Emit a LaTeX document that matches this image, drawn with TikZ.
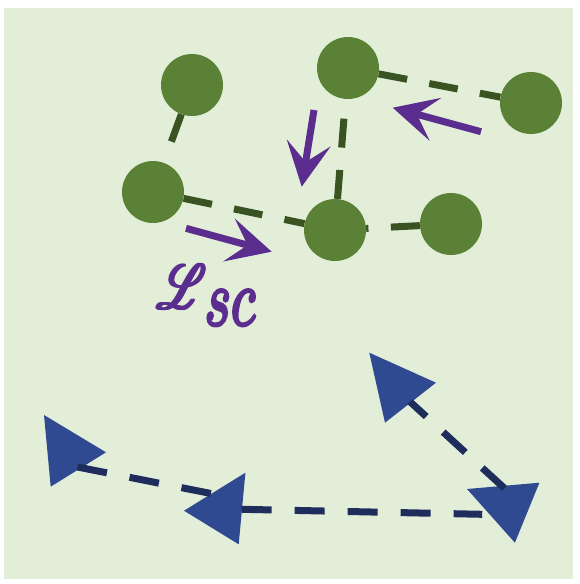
\documentclass[tikz,border=0pt]{standalone}
\usepackage{fontspec}
\usepackage{mathrsfs}
\usetikzlibrary{arrows.meta}
\newfontfamily\lblfont[FakeBold=4]{Latin Modern Math}
\newcommand\sL{\rlap{$\mathscr{L}$}}
\newcommand\fbL{\mbox{\sL\raisebox{0.15pt}{\sL}\kern0.25pt\sL\raisebox{0.15pt}{\sL}\kern0.25pt\sL\raisebox{0.15pt}{\sL}\kern0.25pt\sL\raisebox{0.15pt}{\sL}$\mathscr{L}$}}
\definecolor{bgc}{HTML}{E2EED8}
\definecolor{ballc}{HTML}{5B8136}
\definecolor{gdashc}{HTML}{3A5322}
\definecolor{purp}{HTML}{5B2D8E}
\definecolor{trib}{HTML}{2F4A90}
\definecolor{navyc}{HTML}{1F2D5C}
\tikzset{
  ball/.style={circle, fill=ballc, minimum size=62pt, inner sep=0pt},
  gdash/.style={draw=gdashc, line width=7pt, dash pattern=on 29pt off 22.5pt},
  parrow/.style={draw=purp, line width=7pt, -{Stealth[length=44pt,width=44pt,inset=19pt]}},
  tri/.style={fill=trib},
  ndash/.style={draw=navyc, line width=7pt, dash pattern=on 30pt off 23pt},
}
\begin{document}
\begin{tikzpicture}[x=1pt,y=-1pt]
\useasboundingbox (0,0) rectangle (580,584);
\fill[bgc] (4,8) rectangle (573,579);
% balls
\node[ball] (A) at (192,85) {};
\node[ball] (B) at (348,68) {};
\node[ball] (C) at (531,103) {};
\node[ball] (D) at (153,192) {};
\node[ball] (E) at (335,230) {};
\node[ball] (F) at (451,224) {};
\draw[gdash] (A) -- (D);
\draw[gdash] (B) -- (C);
\draw[gdash] (D) -- (E);
\draw[gdash] (E) -- (B);
\draw[gdash] (F) -- (E);
% purple arrows
\coordinate (p1s) at (186,228.3);
\coordinate (p1e) at (271.7,251.7);
\coordinate (p2s) at (314,110);
\coordinate (p2e) at (301.7,186.7);
\coordinate (p3s) at (481,131.7);
\coordinate (p3e) at (392.7,107.7);
\draw[parrow] (p1s) -- (p1e);
\draw[parrow] (p2s) -- (p2e);
\draw[parrow] (p3s) -- (p3e);
% label
\node[text=purp, inner sep=0pt, anchor=base west] (lbl) at (155,309)
  {\scalebox{4.6}[6.3]{\fbL}\kern-3pt\raisebox{-16pt}{\scalebox{0.7}[1]{\lblfont\fontsize{80}{80}\selectfont\symbol{"1D460}\symbol{"1D450}}}};
% triangles
\coordinate (t1a) at (44,415);
\coordinate (t1b) at (106,452.3);
\coordinate (t1c) at (50.7,486.7);
\coordinate (t2a) at (245.4,472.7);
\coordinate (t2b) at (184,510.7);
\coordinate (t2c) at (238.7,544.3);
\coordinate (t3a) at (369.3,352.7);
\coordinate (t3b) at (436,382.7);
\coordinate (t3c) at (385,422.7);
\coordinate (t4a) at (467,489);
\coordinate (t4b) at (539.4,482.7);
\coordinate (t4c) at (514.9,542.7);
\fill[tri] (t1a) -- (t1b) -- (t1c) -- cycle;
\fill[tri] (t2a) -- (t2b) -- (t2c) -- cycle;
\fill[tri] (t3a) -- (t3b) -- (t3c) -- cycle;
\fill[tri] (t4a) -- (t4b) -- (t4c) -- cycle;
% navy dashed links
\coordinate (l1s) at (77.5,467);
\coordinate (l1e) at (211,493.5);
\coordinate (l2s) at (241.6,509.3);
\coordinate (l2e) at (482.2,514.3);
\coordinate (l3s) at (410,401.7);
\coordinate (l3e) at (504.5,488.3);
\draw[ndash] (l1s) -- (l1e);
\draw[ndash] (l2s) -- (l2e);
\draw[ndash, dash phase=8pt] (l3s) -- (l3e);
\end{tikzpicture}
\end{document}
